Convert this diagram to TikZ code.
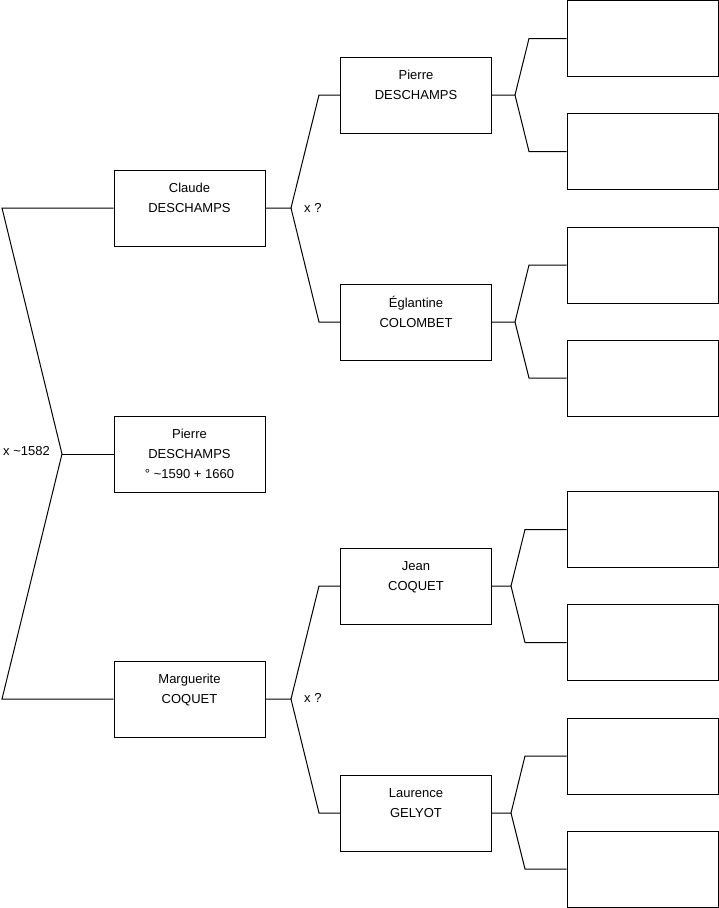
\documentclass[tikz,border=0pt]{standalone}
\usepackage{fontspec}
\setmainfont{Liberation Sans}
\begin{document}
\begin{tikzpicture}[x=1pt,y=-1pt,
  box/.style={draw, line width=1pt, minimum width=151pt, minimum height=76pt, align=center,
    font=\fontsize{13}{20}\selectfont, inner sep=0pt},
  conn/.style={line width=1pt},
  lbl/.style={font=\fontsize{13}{16}\selectfont, anchor=west, inner sep=0pt}]
\useasboundingbox (0,0) rectangle (719,908);
% column 1
\node[box] (claude) at (189.5,208) {Claude\\DESCHAMPS\\~};
\node[box] (pierre) at (189.5,454) {Pierre\\DESCHAMPS\\° \textasciitilde1590 + 1660};
\node[box] (marg) at (189.5,699) {Marguerite\\COQUET\\~};
% column 2
\node[box] (pierreD) at (416,95) {Pierre\\DESCHAMPS\\~};
\node[box] (eglantine) at (416,322) {Églantine\\COLOMBET\\~};
\node[box] (jean) at (416,586) {Jean\\COQUET\\~};
\node[box] (laurence) at (416,813) {Laurence\\GELYOT\\~};
% column 3
\node[box] (e1) at (642.5,38.5) {};
\node[box] (e2) at (642.5,151.5) {};
\node[box] (e3) at (642.5,265) {};
\node[box] (e4) at (642.5,378) {};
\node[box] (e5) at (642.5,529.5) {};
\node[box] (e6) at (642.5,642.5) {};
\node[box] (e7) at (642.5,756) {};
\node[box] (e8) at (642.5,869) {};
% root connector
\coordinate (rt) at (2,208);
\coordinate (rb) at (2,699);
\coordinate (r) at (62,454);
\draw[conn] (claude.west) -- (rt) -- (r) -- (rb) -- (marg.west);
\draw[conn] (r) -- (pierre.west);
\node[lbl] (l0) at (3,451) {x \textasciitilde1582};
% Claude
\coordinate (cb) at (291,208);
\coordinate (ct) at (319,95);
\coordinate (cd) at (319,322);
\draw[conn] (claude.east) -- (cb) -- (ct) -- (pierreD.west);
\draw[conn] (cb) -- (cd) -- (eglantine.west);
\node[lbl] (l1) at (304,208) {x ?};
% Marguerite
\coordinate (mb) at (291,699);
\coordinate (mt) at (319,586);
\coordinate (md) at (319,813);
\draw[conn] (marg.east) -- (mb) -- (mt) -- (jean.west);
\draw[conn] (mb) -- (md) -- (laurence.west);
\node[lbl] (l2) at (304,698) {x ?};
% Pierre D
\coordinate (pb) at (515,95);
\coordinate (pt) at (529,38.5);
\coordinate (pd) at (529,151.5);
\draw[conn] (pierreD.east) -- (pb) -- (pt) -- (e1.west);
\draw[conn] (pb) -- (pd) -- (e2.west);
% Eglantine
\coordinate (gb) at (515,322);
\coordinate (gt) at (529,265);
\coordinate (gd) at (529,378);
\draw[conn] (eglantine.east) -- (gb) -- (gt) -- (e3.west);
\draw[conn] (gb) -- (gd) -- (e4.west);
% Jean
\coordinate (jb) at (511,586);
\coordinate (jt) at (525,529.5);
\coordinate (jd) at (525,642.5);
\draw[conn] (jean.east) -- (jb) -- (jt) -- (e5.west);
\draw[conn] (jb) -- (jd) -- (e6.west);
% Laurence
\coordinate (lb) at (511,813);
\coordinate (lt) at (525,756);
\coordinate (ld) at (525,869);
\draw[conn] (laurence.east) -- (lb) -- (lt) -- (e7.west);
\draw[conn] (lb) -- (ld) -- (e8.west);
\end{tikzpicture}
\end{document}
